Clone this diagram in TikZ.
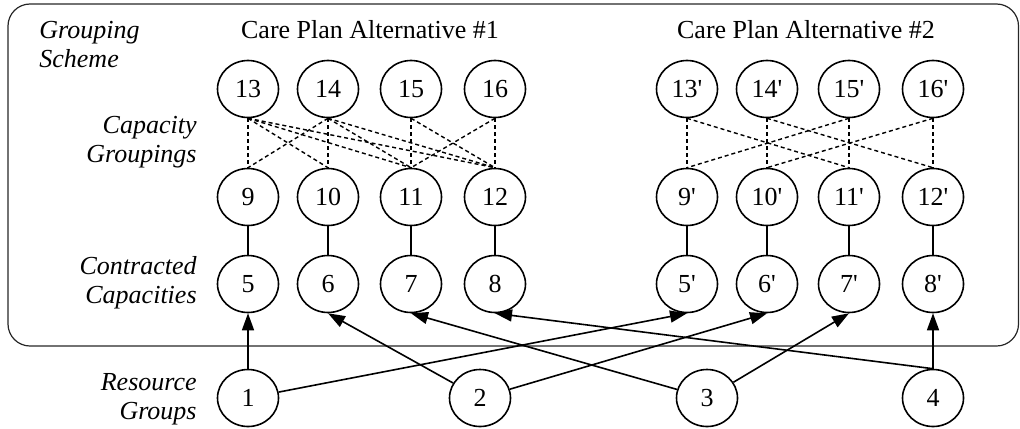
\documentclass[tikz,border=0pt]{standalone}
\usepackage{fontspec}
\setmainfont{Liberation Serif}
\usetikzlibrary{shapes.geometric,arrows.meta}
\newcommand{\pr}{\textquotesingle}
\begin{document}
\begin{tikzpicture}[x=0.5pt,y=-0.5pt,
  every node/.style={font=\fontsize{13}{14.5}\selectfont},
  nd/.style={draw, ellipse, line width=0.8pt, minimum width=30.5pt, minimum height=28.5pt, inner sep=0pt},
  dsh/.style={line width=0.7pt, dash pattern=on 2pt off 1.5pt},
  sol/.style={line width=0.8pt},
  arr/.style={line width=0.8pt, -{Triangle[length=8.5pt,width=6pt]}},
  lbl/.style={font=\fontsize{13}{14.5}\selectfont\itshape, inner sep=0pt},
  frame/.style={draw=black!85, line width=0.6pt, rounded corners=11pt}]
\useasboundingbox (0,0) rectangle (1020,428);
\draw[frame] (8,4) rectangle (1018.5,346);

% titles and labels
\node[lbl, anchor=west, align=left] (gs) at (39,44.5) {Grouping\\Scheme};
\node[lbl, anchor=east, align=right] (cg) at (197,142.5) {Capacity\\Groupings};
\node[lbl, anchor=east, align=right] (cc) at (197,282.5) {Contracted\\Capacities};
\node[lbl, anchor=east, align=right] (rg) at (197,399.5) {Resource\\Groups};
\node (t1) at (370,30) {Care Plan Alternative \#1};
\node (t2) at (806,30) {Care Plan Alternative \#2};

% top row
\foreach \n/\x in {13/248,14/328,15/411,16/495}{\node[nd] (n\n) at (\x,89) {\n};}
\foreach \n/\x in {13/687,14/767,15/849,16/933}{\node[nd] (m\n) at (\x,89) {\n\pr};}
% capacity groupings
\foreach \n/\x in {9/248,10/328,11/411,12/495}{\node[nd] (n\n) at (\x,197) {\n};}
\foreach \n/\x in {9/687,10/767,11/849,12/933}{\node[nd] (m\n) at (\x,197) {\n\pr};}
% contracted capacities
\foreach \n/\x in {5/248,6/328,7/411,8/495}{\node[nd] (n\n) at (\x,284) {\n};}
\foreach \n/\x in {5/687,6/767,7/849,8/933}{\node[nd] (m\n) at (\x,284) {\n\pr};}
% resource groups
\foreach \n/\x in {1/248,2/480,3/707,4/933}{\node[nd] (r\n) at (\x,398) {\n};}

% dashed groupings alternative 1
\foreach \a/\b in {13/9,13/10,13/11,13/12,14/9,14/10,14/11,14/12,15/11,15/12,16/11,16/12}
  {\draw[dsh] (n\a.south) -- (n\b.north);}
% dashed groupings alternative 2
\foreach \a/\b in {13/9,13/11,14/10,14/12,15/9,15/11,16/10,16/12}
  {\draw[dsh] (m\a.south) -- (m\b.north);}

% solid verticals
\foreach \a/\b in {9/5,10/6,11/7,12/8}{
  \draw[sol] (n\a.south) -- (n\b.north);
  \draw[sol] (m\a.south) -- (m\b.north);}

% arrows
\draw[arr] (r1.north) -- (n5.south);
\draw[arr] (r1) -- (m5.south);
\draw[arr] (r2) -- (n6.south);
\draw[arr] (r2) -- (m6.south);
\draw[arr] (r3) -- (n7.south);
\draw[arr] (r3) -- (m7.south);
\draw[arr] (r4.north) -- (n8.south);
\draw[arr] (r4.north) -- (m8.south);
\end{tikzpicture}
\end{document}
